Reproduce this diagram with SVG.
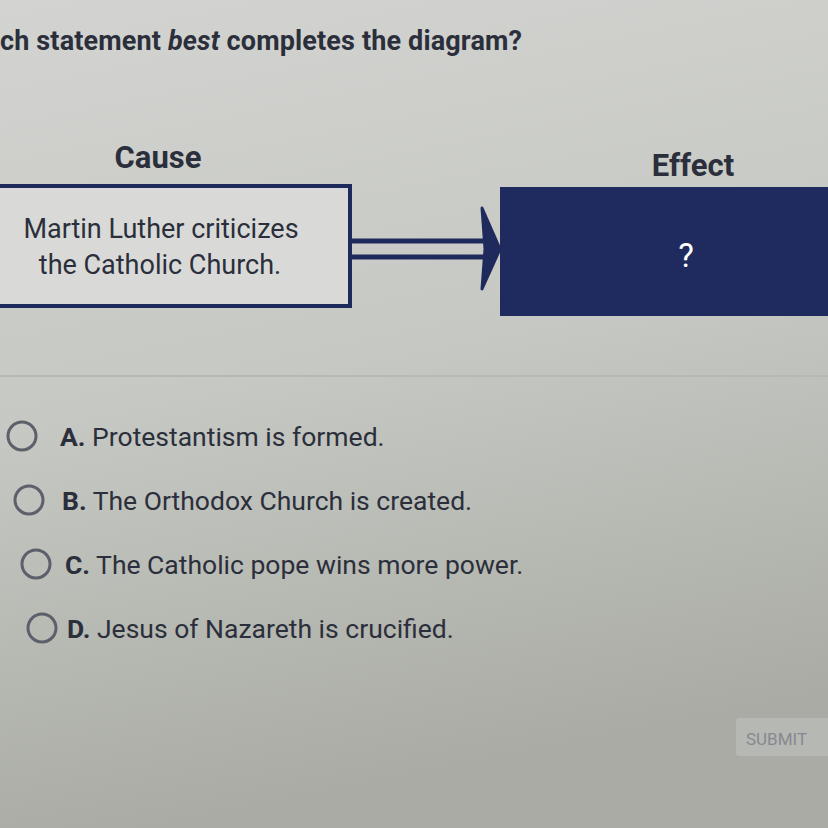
<svg xmlns="http://www.w3.org/2000/svg" width="828" height="828" viewBox="0 0 828 828">
<defs>
<linearGradient id="bg" x1="0" y1="0" x2="0.2" y2="1">
<stop offset="0" stop-color="#d3d4d1"/>
<stop offset="0.5" stop-color="#c6c8c3"/>
<stop offset="1" stop-color="#a9aba4"/>
</linearGradient>
<style>
.t{font-family:Roboto,"Liberation Sans",sans-serif;fill:#2b2f3b}
.opt{font-size:26.5px}
.lbl{font-weight:bold}
.radio{fill:none;stroke:#5c606b;stroke-width:3}
</style>
</defs>
<rect width="828" height="828" fill="url(#bg)"/>
<text class="t" x="0" y="50" font-size="27" font-weight="bold" textLength="522">ch statement <tspan font-style="italic">best</tspan> completes the diagram?</text>
<g id="cause">
<text class="t" x="158" y="168" font-size="31" font-weight="bold" text-anchor="middle">Cause</text>
<rect x="-6" y="186" width="356" height="120" fill="#d9dad8" stroke="#1f2a5c" stroke-width="4"/>
<text class="t" x="161" y="238" font-size="27" text-anchor="middle" fill="#27304f">Martin Luther criticizes</text>
<text class="t" x="160" y="274" font-size="27" text-anchor="middle" fill="#27304f">the Catholic Church.</text>
</g>
<g id="effect">
<text class="t" x="693" y="176" font-size="31" font-weight="bold" text-anchor="middle">Effect</text>
<rect x="500" y="187" width="340" height="129" fill="#1f2a5e"/>
<text x="686" y="267" font-family="Roboto,'Liberation Sans',sans-serif" font-size="33" fill="#ffffff" text-anchor="middle">?</text>
</g>
<g id="connectors" stroke="#1f2a5c" fill="none">
<line x1="350" y1="241" x2="488" y2="241" stroke-width="5"/>
<line x1="350" y1="257" x2="488" y2="257" stroke-width="5"/>
<polygon points="482,208 500,249 482,289 485,249" fill="#1f2a5c" stroke-width="3" stroke-linejoin="round"/>
</g>
<line x1="0" y1="376" x2="828" y2="376" stroke="#b7b9b4" stroke-width="2"/>
<g id="optA">
<circle class="radio" cx="22" cy="436" r="14"/>
<text class="t opt" x="60" y="446"><tspan class="lbl">A.</tspan> Protestantism is formed.</text>
</g>
<g id="optB">
<circle class="radio" cx="29" cy="500" r="14"/>
<text class="t opt" x="62" y="510"><tspan class="lbl">B.</tspan> The Orthodox Church is created.</text>
</g>
<g id="optC">
<circle class="radio" cx="36" cy="564" r="14"/>
<text class="t opt" x="65" y="574"><tspan class="lbl">C.</tspan> The Catholic pope wins more power.</text>
</g>
<g id="optD">
<circle class="radio" cx="42" cy="628" r="14"/>
<text class="t opt" x="67" y="638"><tspan class="lbl">D.</tspan> Jesus of Nazareth is crucified.</text>
</g>
<g id="submit">
<rect x="736" y="718" width="100" height="38" rx="3" fill="#b6b8b3"/>
<text x="746" y="745" font-family="Roboto,'Liberation Sans',sans-serif" font-size="17" fill="#868891">SUBMIT</text>
</g>
</svg>
